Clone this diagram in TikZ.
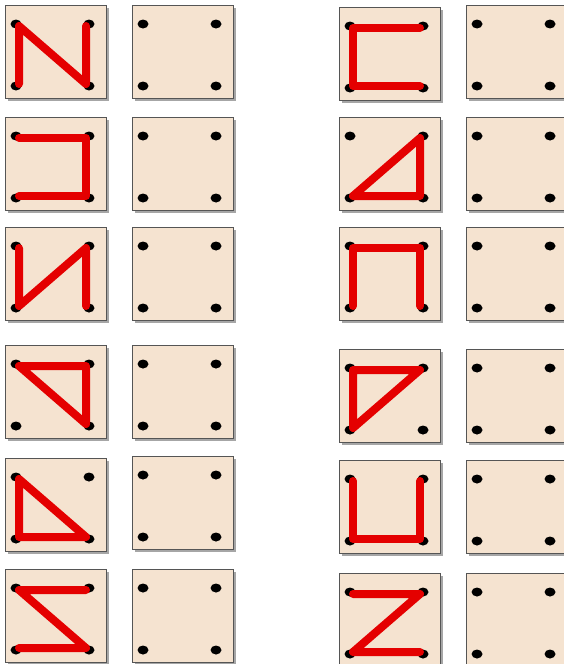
\documentclass[tikz,border=0pt]{standalone}
\usetikzlibrary{shapes.geometric}
\definecolor{boardfill}{RGB}{245,227,208}
\definecolor{boardline}{RGB}{85,85,85}
\definecolor{cordred}{RGB}{228,0,0}
\tikzset{
  board/.style={fill=boardfill, draw=boardline, line width=1},
  shade/.style={fill=black!35},
  peg/.style={ellipse, fill=black, inner sep=0, minimum width=11, minimum height=9},
  cord/.style={cordred, line width=8, line cap=round, line join=round}
}
% board with four pegs: name, left x, top y
\newcommand{\pegboard}[3]{
  \fill[shade] (#2+2.5,#3+2.5) rectangle ++(101,93);
  \draw[board] (#2,#3) rectangle ++(101,93);
  \node[peg] (#1-tl) at (#2+11,#3+19) {};
  \node[peg] (#1-tr) at (#2+84,#3+19) {};
  \node[peg] (#1-bl) at (#2+11,#3+81) {};
  \node[peg] (#1-br) at (#2+84,#3+81) {};
  \coordinate (#1-TL) at (#2+14,#3+21);
  \coordinate (#1-TR) at (#2+81,#3+21);
  \coordinate (#1-BL) at (#2+14,#3+79);
  \coordinate (#1-BR) at (#2+81,#3+79);
}

\begin{document}
\begin{tikzpicture}[x=1pt, y=-1pt]

    \useasboundingbox (0,0) rectangle (564,664);
    \clip (0,0) rectangle (564,664);

    % left half
    \pegboard{a1}{5}{5}     \pegboard{b1}{132}{5}
    \pegboard{a2}{5}{117}   \pegboard{b2}{132}{117}
    \pegboard{a3}{5}{227}   \pegboard{b3}{132}{227}
    \pegboard{a4}{5}{345}   \pegboard{b4}{132}{345}
    \pegboard{a5}{5}{458}   \pegboard{b5}{132}{456}
    \pegboard{a6}{5}{569}   \pegboard{b6}{132}{569}

    % right half
    \pegboard{c1}{339}{7}   \pegboard{d1}{466}{5}
    \pegboard{c2}{339}{117} \pegboard{d2}{466}{117}
    \pegboard{c3}{339}{227} \pegboard{d3}{466}{227}
    \pegboard{c4}{339}{349} \pegboard{d4}{466}{349}
    \pegboard{c5}{339}{460} \pegboard{d5}{466}{460}
    \pegboard{c6}{339}{573} \pegboard{d6}{466}{573}

    % strings
    \draw[cord] (a1-BL) -- (a1-TL) -- (a1-BR) -- (a1-TR);
    \draw[cord] (a2-TL) -- (a2-TR) -- (a2-BR) -- (a2-BL);
    \draw[cord] (a3-TL) -- (a3-BL) -- (a3-TR) -- (a3-BR);
    \draw[cord] (a4-TL) -- (a4-TR) -- (a4-BR) -- cycle;
    \draw[cord] (a5-TL) -- (a5-BL) -- (a5-BR) -- cycle;
    \draw[cord] (a6-TR) -- (a6-TL) -- (a6-BR) -- (a6-BL);

    \draw[cord] (c1-TR) -- (c1-TL) -- (c1-BL) -- (c1-BR);
    \draw[cord] (c2-BL) -- (c2-TR) -- (c2-BR) -- cycle;
    \draw[cord] (c3-BL) -- (c3-TL) -- (c3-TR) -- (c3-BR);
    \draw[cord] (c4-TR) -- (c4-TL) -- (c4-BL) -- cycle;
    \draw[cord] (c5-TL) -- (c5-BL) -- (c5-BR) -- (c5-TR);
    \draw[cord] (c6-TL) -- (c6-TR) -- (c6-BL) -- (c6-BR);

  \end{tikzpicture}
\end{document}
